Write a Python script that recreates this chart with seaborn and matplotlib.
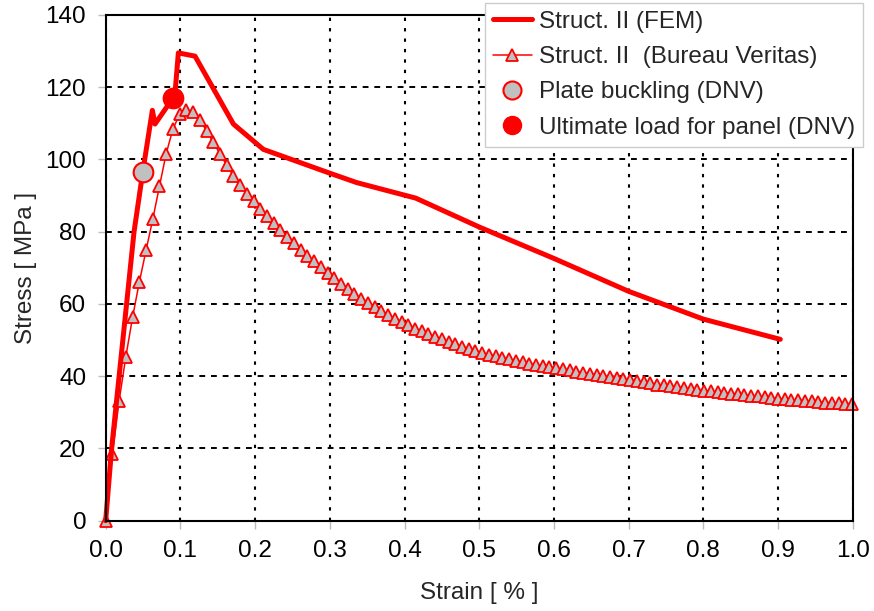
import matplotlib
matplotlib.use("Agg")
import matplotlib.pyplot as plt
from matplotlib.lines import Line2D
import seaborn as sns
import pandas as pd

# ---- data ----
fem_strain = [0.0, 0.008, 0.018, 0.028, 0.038, 0.050, 0.0625, 0.066, 0.0897, 0.093,
              0.0973, 0.1196, 0.171, 0.211, 0.300, 0.336, 0.415, 0.500, 0.600, 0.700,
              0.800, 0.903]
fem_stress = [0.0, 20.0, 40.0, 60.0, 80.0, 97.0, 113.6, 109.8, 116.9, 118.8,
              129.5, 128.6, 109.8, 102.8, 96.2, 93.6, 89.3, 81.3, 72.6, 63.5,
              55.8, 50.2]

bv_strain = [0.000, 0.009, 0.018, 0.027, 0.036, 0.045, 0.054, 0.063, 0.072, 0.081,
             0.090, 0.099, 0.108, 0.117, 0.126, 0.135, 0.144, 0.153, 0.162, 0.171,
             0.180, 0.189, 0.198, 0.207, 0.216, 0.225, 0.234, 0.243, 0.252, 0.261,
             0.270, 0.279, 0.288, 0.297, 0.306, 0.315, 0.324, 0.333, 0.342, 0.351,
             0.360, 0.369, 0.378, 0.387, 0.396, 0.405, 0.414, 0.423, 0.432, 0.441,
             0.450, 0.459, 0.468, 0.477, 0.486, 0.495, 0.504, 0.513, 0.522, 0.531,
             0.540, 0.549, 0.558, 0.567, 0.576, 0.585, 0.594, 0.603, 0.612, 0.621,
             0.630, 0.639, 0.648, 0.657, 0.666, 0.675, 0.684, 0.693, 0.702, 0.711,
             0.720, 0.729, 0.738, 0.747, 0.756, 0.765, 0.774, 0.783, 0.792, 0.801,
             0.810, 0.819, 0.828, 0.837, 0.846, 0.855, 0.864, 0.873, 0.882, 0.891,
             0.900, 0.909, 0.918, 0.927, 0.936, 0.945, 0.954, 0.963, 0.972, 0.981,
             0.990, 0.999]
bv_stress = [0.0, 18.4, 33.2, 45.4, 56.3, 66.0, 74.8, 83.4, 92.6, 101.6,
             108.4, 112.5, 113.8, 113.1, 110.8, 108.0, 104.7, 101.6, 98.4, 95.5,
             93.0, 90.5, 88.4, 86.3, 84.3, 82.3, 80.4, 78.5, 76.8, 75.0,
             73.3, 71.8, 70.2, 68.7, 67.1, 65.6, 64.1, 62.8, 61.5, 60.3,
             59.2, 58.0, 56.9, 55.9, 55.0, 54.1, 53.2, 52.4, 51.7, 50.9,
             50.2, 49.5, 48.9, 48.2, 47.6, 47.0, 46.5, 46.0, 45.5, 45.1,
             44.7, 44.3, 43.9, 43.5, 43.1, 42.8, 42.5, 42.2, 41.9, 41.6,
             41.3, 41.0, 40.7, 40.4, 40.1, 39.8, 39.5, 39.2, 38.9, 38.6,
             38.3, 38.0, 37.7, 37.5, 37.2, 37.0, 36.7, 36.5, 36.2, 36.0,
             35.8, 35.6, 35.4, 35.2, 35.0, 34.8, 34.6, 34.4, 34.2, 34.0,
             33.8, 33.7, 33.5, 33.4, 33.2, 33.0, 32.9, 32.7, 32.6, 32.5,
             32.3, 32.2]

plate_buckling = ([0.050], [96.5])
ultimate_load = ([0.0897], [116.9])

labels = ["Struct. II (FEM)", "Struct. II  (Bureau Veritas)",
          "Plate buckling (DNV)", "Ultimate load for panel (DNV)"]
x_ticks = [0.0, 0.1, 0.2, 0.3, 0.4, 0.5, 0.6, 0.7, 0.8, 0.9, 1.0]
y_ticks = [0, 20, 40, 60, 80, 100, 120, 140]

# ---- style ----
sns.set_theme(style="white")
plt.rcParams['font.family'] = ['Liberation Sans', 'DejaVu Sans']

RED = "#ff0000"
GREY = "#c0c0c0"

fig = plt.figure(figsize=(8.74, 6.11), dpi=100)
ax = fig.add_axes([0.1209, 0.1478, 0.8548, 0.8277])

fem_df = pd.DataFrame({"strain": fem_strain, "stress": fem_stress})
bv_df = pd.DataFrame({"strain": bv_strain, "stress": bv_stress})

sns.lineplot(data=fem_df, x="strain", y="stress", ax=ax, color=RED, linewidth=3.6,
             sort=False, estimator=None, zorder=4, clip_on=False)
sns.lineplot(data=bv_df, x="strain", y="stress", ax=ax, color=RED, linewidth=1.1,
             marker="^", markersize=8.5, markerfacecolor=GREY, markeredgecolor=RED,
             markeredgewidth=1.3, sort=False, estimator=None, zorder=3, clip_on=False)
sns.scatterplot(x=plate_buckling[0], y=plate_buckling[1], ax=ax, s=200, color=GREY,
                edgecolor=RED, linewidth=1.5, zorder=5, clip_on=False)
sns.scatterplot(x=ultimate_load[0], y=ultimate_load[1], ax=ax, s=200, color=RED,
                edgecolor=RED, linewidth=1.5, zorder=5, clip_on=False)

ax.set_xlim(0, 1.0)
ax.set_ylim(0, 140)
ax.set_xticks(x_ticks)
ax.set_xticklabels([f"{t:.1f}" for t in x_ticks])
ax.set_yticks(y_ticks)
ax.tick_params(axis="both", labelsize=17.5, length=6, width=1, color="#bbbbbb",
               direction="out", pad=8, labelcolor="black")
ax.tick_params(axis="both", which="both", bottom=True, left=True)

ax.xaxis.grid(True, color="black", linestyle=(0, (1.6, 3.4)), linewidth=1.5)
ax.yaxis.grid(True, color="black", linestyle=(0, (3.0, 3.0)), linewidth=1.4)
ax.set_axisbelow(True)
for sp in ax.spines.values():
    sp.set_visible(True)
    sp.set_color("black")
    sp.set_linewidth(1.5)
    sp.set_zorder(6)

ax.set_xlabel("Strain [ % ]", fontsize=17.5, labelpad=14)
ax.set_ylabel("Stress [ MPa ]", fontsize=17.5, labelpad=6)

handles = [
    Line2D([], [], color=RED, linewidth=3.6),
    Line2D([], [], color=RED, linewidth=1.1, marker="^", markersize=8.5,
           markerfacecolor=GREY, markeredgecolor=RED, markeredgewidth=1.3),
    Line2D([], [], linestyle="none", marker="o", markersize=13,
           markerfacecolor=GREY, markeredgecolor=RED, markeredgewidth=1.5),
    Line2D([], [], linestyle="none", marker="o", markersize=13,
           markerfacecolor=RED, markeredgecolor=RED),
]
leg = ax.legend(handles, labels, loc="upper right",
                bbox_to_anchor=(863.3 / 874, (611 - 2.7) / 611),
                bbox_transform=fig.transFigure, borderaxespad=0,
                fontsize=17.5, frameon=True, fancybox=False, framealpha=1,
                edgecolor="#cccccc", handlelength=1.6, handletextpad=0.3,
                labelspacing=0.55, borderpad=0.33)
leg.get_frame().set_linewidth(1.0)
leg.set_zorder(10)

fig.savefig("out.png", dpi=100)
